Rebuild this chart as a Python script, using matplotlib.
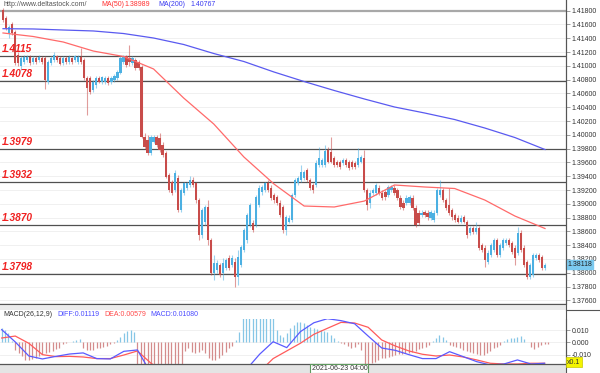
import numpy as np
import matplotlib
matplotlib.use("Agg")
import matplotlib.pyplot as plt
from matplotlib.patches import Rectangle
from matplotlib.lines import Line2D

# ---------------- data ----------------
opens = [1.4181,1.4169,1.4148,1.4161,1.4149,1.4116,1.4100,1.4106,1.4108,1.4113,
         1.4106,1.4111,1.4108,1.4111,1.4111,1.4077,1.4104,1.4108,1.4114,1.4111,
         1.4104,1.4111,1.4106,1.4111,1.4108,1.4106,1.4113,1.4108,1.4082,1.4082,
         1.4065,1.4072,1.4082,1.4077,1.4077,1.4082,1.4077,1.4080,1.4082,1.4090,
         1.4106,1.4114,1.4111,1.4104,1.4108,1.4106,1.4098,1.3997,1.3993,1.3974,
         1.3990,1.3997,1.3995,1.3985,1.3974,1.3942,1.3932,1.3920,1.3937,1.3891,
         1.3916,1.3923,1.3927,1.3935,1.3930,1.3906,1.3855,1.3874,1.3895,1.3848,
         1.3800,1.3804,1.3811,1.3800,1.3807,1.3822,1.3811,1.3816,1.3794,1.3811,
         1.3833,1.3848,1.3869,1.3872,1.3869,1.3898,1.3917,1.3920,1.3930,1.3923,
         1.3913,1.3910,1.3901,1.3895,1.3862,1.3874,1.3877,1.3913,1.3930,1.3935,
         1.3937,1.3949,1.3935,1.3927,1.3927,1.3956,1.3956,1.3956,1.3978,1.3975,
         1.3967,1.3961,1.3961,1.3959,1.3964,1.3961,1.3961,1.3959,1.3956,1.3961,
         1.3967,1.3920,1.3901,1.3916,1.3916,1.3923,1.3916,1.3917,1.3913,1.3920,
         1.3923,1.3920,1.3909,1.3901,1.3901,1.3901,1.3909,1.3894,1.3887,1.3884,
         1.3888,1.3887,1.3880,1.3877,1.3887,1.3913,1.3920,1.3906,1.3898,1.3891,
         1.3884,1.3880,1.3874,1.3881,1.3874,1.3858,1.3865,1.3859,1.3865,1.3840,
         1.3836,1.3816,1.3826,1.3833,1.3848,1.3826,1.3836,1.3843,1.3848,1.3843,
         1.3836,1.3829,1.3858,1.3836,1.3816,1.3794,1.3797,1.3822,1.3826,1.3823,
         1.3807]
highs = [1.4184,1.4172,1.4159,1.4164,1.4152,1.4120,1.4114,1.4116,1.4116,1.4116,
         1.4114,1.4114,1.4116,1.4114,1.4114,1.4108,1.4114,1.4120,1.4116,1.4114,
         1.4114,1.4114,1.4116,1.4113,1.4116,1.4116,1.4126,1.4111,1.4085,1.4085,
         1.4080,1.4085,1.4085,1.4085,1.4085,1.4085,1.4085,1.4088,1.4094,1.4114,
         1.4116,1.4116,1.4130,1.4114,1.4111,1.4108,1.4101,1.4003,1.4000,1.4000,
         1.4000,1.4000,1.4003,1.3990,1.3977,1.3945,1.3935,1.3949,1.3942,1.3923,
         1.3932,1.3932,1.3940,1.3939,1.3932,1.3909,1.3894,1.3898,1.3906,1.3851,
         1.3826,1.3819,1.3814,1.3822,1.3822,1.3826,1.3826,1.3822,1.3833,1.3840,
         1.3865,1.3887,1.3901,1.3877,1.3913,1.3927,1.3927,1.3932,1.3935,1.3927,
         1.3916,1.3913,1.3906,1.3898,1.3884,1.3884,1.3916,1.3937,1.3940,1.3956,
         1.3949,1.3952,1.3937,1.3930,1.3964,1.3982,1.3967,1.3985,1.3982,1.3997,
         1.3970,1.3964,1.3964,1.3967,1.3967,1.3964,1.3964,1.3962,1.3981,1.3971,
         1.3978,1.3923,1.3920,1.3923,1.3930,1.3927,1.3920,1.3920,1.3927,1.3927,
         1.3927,1.3923,1.3913,1.3906,1.3913,1.3913,1.3913,1.3898,1.3891,1.3891,
         1.3891,1.3891,1.3891,1.3891,1.3923,1.3935,1.3923,1.3909,1.3923,1.3894,
         1.3887,1.3884,1.3884,1.3884,1.3877,1.3868,1.3868,1.3874,1.3868,1.3843,
         1.3840,1.3833,1.3843,1.3851,1.3851,1.3843,1.3851,1.3851,1.3851,1.3846,
         1.3840,1.3866,1.3862,1.3840,1.3819,1.3814,1.3829,1.3829,1.3829,1.3826,
         1.3814]
lows = [1.4164,1.4152,1.4140,1.4145,1.4101,1.4100,1.4094,1.4103,1.4106,1.4101,
        1.4103,1.4103,1.4106,1.4103,1.4067,1.4074,1.4101,1.4106,1.4106,1.4101,
        1.4101,1.4103,1.4103,1.4103,1.4106,1.4103,1.4103,1.4080,1.4029,1.4059,
        1.4062,1.4068,1.4075,1.4074,1.4074,1.4072,1.4074,1.4077,1.4080,1.4088,
        1.4103,1.4098,1.4100,1.4101,1.4094,1.4094,1.3995,1.3979,1.3971,1.3971,
        1.3988,1.3982,1.3975,1.3968,1.3937,1.3917,1.3913,1.3917,1.3888,1.3888,
        1.3913,1.3920,1.3924,1.3924,1.3901,1.3848,1.3851,1.3870,1.3840,1.3797,
        1.3790,1.3800,1.3794,1.3790,1.3804,1.3804,1.3808,1.3779,1.3782,1.3808,
        1.3830,1.3843,1.3866,1.3859,1.3866,1.3895,1.3913,1.3917,1.3917,1.3906,
        1.3901,1.3898,1.3881,1.3858,1.3855,1.3872,1.3874,1.3910,1.3927,1.3932,
        1.3935,1.3932,1.3920,1.3916,1.3924,1.3953,1.3953,1.3953,1.3959,1.3959,
        1.3953,1.3953,1.3950,1.3956,1.3953,1.3949,1.3950,1.3950,1.3953,1.3959,
        1.3917,1.3891,1.3894,1.3913,1.3913,1.3913,1.3906,1.3906,1.3910,1.3917,
        1.3913,1.3906,1.3892,1.3891,1.3898,1.3898,1.3891,1.3866,1.3869,1.3881,
        1.3881,1.3877,1.3877,1.3874,1.3884,1.3910,1.3903,1.3891,1.3884,1.3877,
        1.3874,1.3872,1.3872,1.3872,1.3851,1.3855,1.3856,1.3856,1.3833,1.3830,
        1.3808,1.3813,1.3823,1.3830,1.3823,1.3823,1.3833,1.3840,1.3837,1.3827,
        1.3811,1.3826,1.3830,1.3808,1.3791,1.3791,1.3794,1.3819,1.3816,1.3804,
        1.3804]
closes = [1.4167,1.4155,1.4156,1.4148,1.4104,1.4104,1.4111,1.4113,1.4113,1.4104,
          1.4111,1.4106,1.4113,1.4106,1.4080,1.4106,1.4111,1.4116,1.4108,1.4103,
          1.4111,1.4106,1.4113,1.4106,1.4114,1.4113,1.4106,1.4082,1.4068,1.4062,
          1.4077,1.4082,1.4077,1.4084,1.4082,1.4075,1.4082,1.4085,1.4091,1.4111,
          1.4114,1.4101,1.4106,1.4111,1.4097,1.4097,1.3997,1.3982,1.3974,1.3997,
          1.3997,1.3985,1.3978,1.3971,1.3939,1.3920,1.3916,1.3945,1.3891,1.3920,
          1.3930,1.3930,1.3935,1.3927,1.3906,1.3855,1.3891,1.3895,1.3848,1.3800,
          1.3814,1.3814,1.3797,1.3814,1.3819,1.3807,1.3822,1.3794,1.3823,1.3837,
          1.3862,1.3884,1.3898,1.3862,1.3910,1.3923,1.3924,1.3930,1.3920,1.3909,
          1.3906,1.3901,1.3884,1.3862,1.3881,1.3880,1.3913,1.3935,1.3937,1.3946,
          1.3946,1.3935,1.3923,1.3920,1.3959,1.3967,1.3964,1.3977,1.3961,1.3961,
          1.3956,1.3956,1.3953,1.3964,1.3956,1.3952,1.3953,1.3953,1.3967,1.3968,
          1.3920,1.3898,1.3916,1.3920,1.3927,1.3916,1.3909,1.3910,1.3924,1.3924,
          1.3916,1.3909,1.3895,1.3894,1.3909,1.3910,1.3894,1.3869,1.3872,1.3887,
          1.3884,1.3881,1.3888,1.3887,1.3920,1.3920,1.3906,1.3894,1.3887,1.3881,
          1.3877,1.3874,1.3880,1.3874,1.3855,1.3865,1.3859,1.3865,1.3836,1.3833,
          1.3819,1.3829,1.3840,1.3848,1.3826,1.3840,1.3848,1.3848,1.3840,1.3830,
          1.3822,1.3858,1.3833,1.3811,1.3794,1.3811,1.3826,1.3826,1.3819,1.3807,
          1.38118]

# moving averages, sampled every 10th candle
ma50 = [1.41477,1.41426,1.41346,1.41215,1.41136,1.40955,1.40534,1.40157,1.39679,1.39287,
        1.38968,1.38954,1.39040,1.39273,1.39244,1.39222,1.39055,1.38823,1.38642]
ma200 = [1.41539,1.41535,1.41520,1.41506,1.41469,1.41404,1.41310,1.41179,1.41063,1.40911,
         1.40773,1.40643,1.40520,1.40404,1.40317,1.40222,1.40099,1.39961,1.39787]

levels = [1.4115, 1.4078, 1.3979, 1.3932, 1.3870, 1.3798]
price_ticks = [1.418 - 0.002 * i for i in range(22)]

# MACD histogram (one bar per period)
macd_hist = [0.0119,0.0100,0.0073,0.0011,-0.0059,-0.0086,-0.0111,-0.0143,-0.0143,-0.0138,
             -0.0130,-0.0111,-0.0095,-0.0084,-0.0076,-0.0068,-0.0057,-0.0043,-0.0014,-0.0003,
             0.0003,0.0008,0.0019,0.0027,-0.0049,-0.0062,-0.0062,-0.0062,-0.0049,-0.0043,
             -0.0035,-0.0027,-0.0016,-0.0008,0.0019,0.0046,0.0073,0.0092,0.0100,0.0086,
             -0.0200,-0.0220,-0.0230,-0.0240,-0.0250,-0.0250,-0.0250,-0.0240,-0.0230,-0.0220,
             -0.0210,-0.0200,-0.0190,-0.0185,-0.0070,-0.0049,-0.0076,-0.0084,-0.0076,-0.0062,
             -0.0089,-0.0130,-0.0143,-0.0143,-0.0130,-0.0103,-0.0076,-0.0049,-0.0027,0.0019,
             0.0086,0.0200,0.0200,0.0200,0.0200,0.0200,0.0200,0.0200,0.0200,0.0200,
             0.0200,0.0100,0.0059,0.0046,0.0073,0.0114,0.0141,0.0168,0.0162,0.0154,
             0.0141,0.0127,0.0114,0.0105,0.0100,0.0095,0.0086,0.0059,0.0032,0.0011,
             -0.0003,-0.0016,-0.0027,-0.0043,-0.0035,-0.0016,-0.0062,-0.0190,-0.0190,-0.0170,
             -0.0157,-0.0143,-0.0130,-0.0124,-0.0122,-0.0111,-0.0103,-0.0095,-0.0095,-0.0089,
             -0.0084,-0.0076,-0.0068,-0.0057,-0.0049,-0.0035,-0.0022,0.0014,0.0032,0.0059,
             0.0046,0.0019,-0.0022,-0.0030,-0.0035,-0.0049,-0.0062,-0.0068,-0.0076,-0.0084,
             -0.0095,-0.0103,-0.0103,-0.0089,-0.0068,-0.0049,-0.0035,-0.0022,0.0014,0.0024,
             0.0032,0.0032,0.0046,0.0051,0.0024,0.0005,-0.0035,-0.0057,-0.0035,-0.0022,
             -0.0016,-0.0016]
# DIFF / DEA, sampled every 4th histogram bar
macd_diff = [0.0103,0.0003,-0.0111,-0.0135,-0.0114,-0.0095,-0.0086,-0.0132,-0.0135,-0.0073,
             -0.0062,-0.0251,-0.0305,-0.0305,-0.0332,-0.0332,-0.0305,-0.0278,-0.0224,-0.0097,
             0.0005,-0.0043,0.0086,0.0159,0.0192,0.0176,0.0151,0.0051,-0.0046,-0.0065,
             -0.0100,-0.0132,-0.0132,-0.0076,-0.0116,-0.0157,-0.0184,-0.0176,-0.0143,-0.0176,
             -0.0170]
macd_dea = [0.0035,0.0051,-0.0008,-0.0100,-0.0116,-0.0114,-0.0119,-0.0132,-0.0132,-0.0103,
            -0.0070,-0.0170,-0.0238,-0.0278,-0.0305,-0.0319,-0.0319,-0.0305,-0.0278,-0.0238,
            -0.0132,-0.0070,-0.0008,0.0065,0.0114,0.0162,0.0157,0.0122,0.0019,-0.0030,
            -0.0070,-0.0097,-0.0111,-0.0103,-0.0119,-0.0143,-0.0170,-0.0176,-0.0176,-0.0170,
            -0.0170]
macd_ticks = [0.010, 0.000, -0.010]

# ---------------- figure ----------------
W, H = 600, 373
fig = plt.figure(figsize=(6.0, 3.73), dpi=100)
fig.patch.set_facecolor("white")

def fx(px):
    return px / W

def fy(py):
    return 1 - py / H

FONT = "Liberation Sans"
RED_UP = "#c84c4a"
BLUE_UP = "#4cb0e2"

# main price panel
ax = fig.add_axes([0, fy(303), fx(566), 303 / H])
ax.set_xlim(0, 566)
ax.set_ylim(1.37562, 1.41955)
for s in ["top", "left", "bottom"]:
    ax.spines[s].set_visible(False)
ax.spines["right"].set_color("#555555")
ax.spines["right"].set_linewidth(0.8)
ax.yaxis.tick_right()
ax.set_yticks(price_ticks)
ax.set_yticklabels([f"{t:.5f}" for t in price_ticks], fontsize=5, family=FONT, color="#333333")
ax.tick_params(axis="y", length=3, width=0.5, color="#777777", pad=1)
ax.set_xticks([])
for t in price_ticks:
    ax.axhline(t, color="#eeeeee", lw=0.6, zorder=0)
ax.axhline(1.418, color="#a8a8a8", lw=1.6, zorder=1)

n = len(opens)
xs = np.linspace(3, 545, n)
o = np.array(opens); c = np.array(closes); h = np.array(highs); l = np.array(lows)
up = c >= o
cols = np.where(up, BLUE_UP, RED_UP)
ax.vlines(xs, l, h, colors=cols, lw=0.8, alpha=0.55, zorder=2)
body_lo = np.minimum(o, c)
body_h = np.maximum(np.abs(c - o), 0.00008)
ax.bar(xs, body_h, bottom=body_lo, width=2.2, color=cols, linewidth=0, zorder=3)

ma_idx = np.arange(0, n, 10)
ax.plot(xs[ma_idx[:len(ma50)]], ma50, color="#ff6a6a", lw=0.9, zorder=4)
ax.plot(xs[ma_idx[:len(ma200)]], ma200, color="#5a5af0", lw=0.9, zorder=4)

for lv in levels:
    ax.axhline(lv, color="#505050", lw=0.9, zorder=1)
    ax.text(2, lv + 0.00028, f"{lv:.4f}", color="#f02020", fontsize=7.3,
            fontweight="bold", fontstyle="italic", family=FONT, va="bottom", ha="left", zorder=6)

# current price tag
ax.text(567, closes[-1], f"{closes[-1]:.5f}", fontsize=5, family=FONT, color="#222222",
        va="center", ha="left", zorder=10, clip_on=False,
        bbox=dict(boxstyle="square,pad=0.15", fc="#7ccaf0", ec="#7ccaf0"))

# header texts
fig.text(fx(3), fy(5), "http://www.deltastock.com/", fontsize=5, family=FONT, color="#555555", va="center")
fig.text(fx(101), fy(5), "MA(50)", fontsize=5, family=FONT, color="#ff3030", va="center")
fig.text(fx(124), fy(5), "1.38989", fontsize=5, family=FONT, color="#ff3030", va="center")
fig.text(fx(158), fy(5), "MA(200)", fontsize=5, family=FONT, color="#3a3af0", va="center")
fig.text(fx(190), fy(5), "1.40767", fontsize=5, family=FONT, color="#3a3af0", va="center")

# separator band
fig.add_artist(Rectangle((0, fy(310)), fx(566), 7 / H, transform=fig.transFigure,
                         fc="#ebebeb", ec="none", zorder=0))
fig.add_artist(Line2D([0, fx(566)], [fy(303.5), fy(303.5)], transform=fig.transFigure,
                      color="#555555", lw=0.8))
fig.add_artist(Line2D([fx(566), 1], [fy(310), fy(310)], transform=fig.transFigure,
                      color="#555555", lw=0.8))

# MACD panel
ax2 = fig.add_axes([0, fy(364), fx(566), (364 - 319.3) / H])
ax2.set_xlim(0, 566)
ax2.set_ylim(-0.0176, 0.0187)
for s in ["top", "left", "bottom"]:
    ax2.spines[s].set_visible(False)
ax2.spines["right"].set_color("#555555")
ax2.spines["right"].set_linewidth(0.8)
ax2.yaxis.tick_right()
ax2.set_yticks(macd_ticks)
ax2.set_yticklabels([f"{t:.3f}" for t in macd_ticks], fontsize=5, family=FONT, color="#333333")
ax2.tick_params(axis="y", length=3, width=0.5, color="#777777", pad=1)
ax2.set_xticks([])
for t in macd_ticks:
    ax2.axhline(t, color="#eeeeee", lw=0.6, zorder=0)

hv = np.array(macd_hist)
hx = np.linspace(1.7, 548, len(hv))
ax2.vlines(hx, 0, hv, colors=np.where(hv >= 0, "#86c6e6", "#d48c8c"), lw=0.9, zorder=2)
lx = hx[np.arange(0, len(hv), 4)][:len(macd_diff)]
ax2.plot(lx, macd_dea, color="#ff5a5a", lw=0.9, zorder=3)
ax2.plot(lx, macd_diff, color="#5a5aff", lw=0.9, zorder=4)

fig.text(fx(3), fy(315), "MACD(26,12,9)", fontsize=5, family=FONT, color="#333333", va="center")
fig.text(fx(57), fy(315), "DIFF:0.01119", fontsize=5, family=FONT, color="#4a4aff", va="center")
fig.text(fx(104), fy(315), "DEA:0.00579", fontsize=5, family=FONT, color="#ff4a4a", va="center")
fig.text(fx(150), fy(315), "MACD:0.01080", fontsize=5, family=FONT, color="#4a4aff", va="center")

# bottom bar
fig.add_artist(Rectangle((0, 0), fx(566), 9 / H, transform=fig.transFigure,
                         fc="#e4e4e4", ec="none", zorder=5))
fig.add_artist(Line2D([0, fx(566)], [fy(364.3), fy(364.3)], transform=fig.transFigure,
                      color="#555555", lw=0.9, zorder=6))
fig.add_artist(Rectangle((fx(310), 0), fx(58), 9 / H, transform=fig.transFigure,
                         fc="white", ec="#5e9a5e", lw=0.8, zorder=7))
fig.text(fx(312), fy(368.8), "2021-06-23 04:00", fontsize=5, family=FONT, color="#333333",
         va="center", ha="left", zorder=8)
fig.add_artist(Line2D([fx(566), fx(566)], [0, 1], transform=fig.transFigure,
                      color="#555555", lw=0.8, zorder=9))

# x0.1 box
fig.text(fx(567), fy(362), "x0.1", fontsize=5, family=FONT, color="#333333", va="center", ha="left",
         zorder=10, bbox=dict(boxstyle="square,pad=0.2", fc="#f4f400", ec="#c8c800", lw=0.5))

fig.savefig("out.png", dpi=100, facecolor="white")
